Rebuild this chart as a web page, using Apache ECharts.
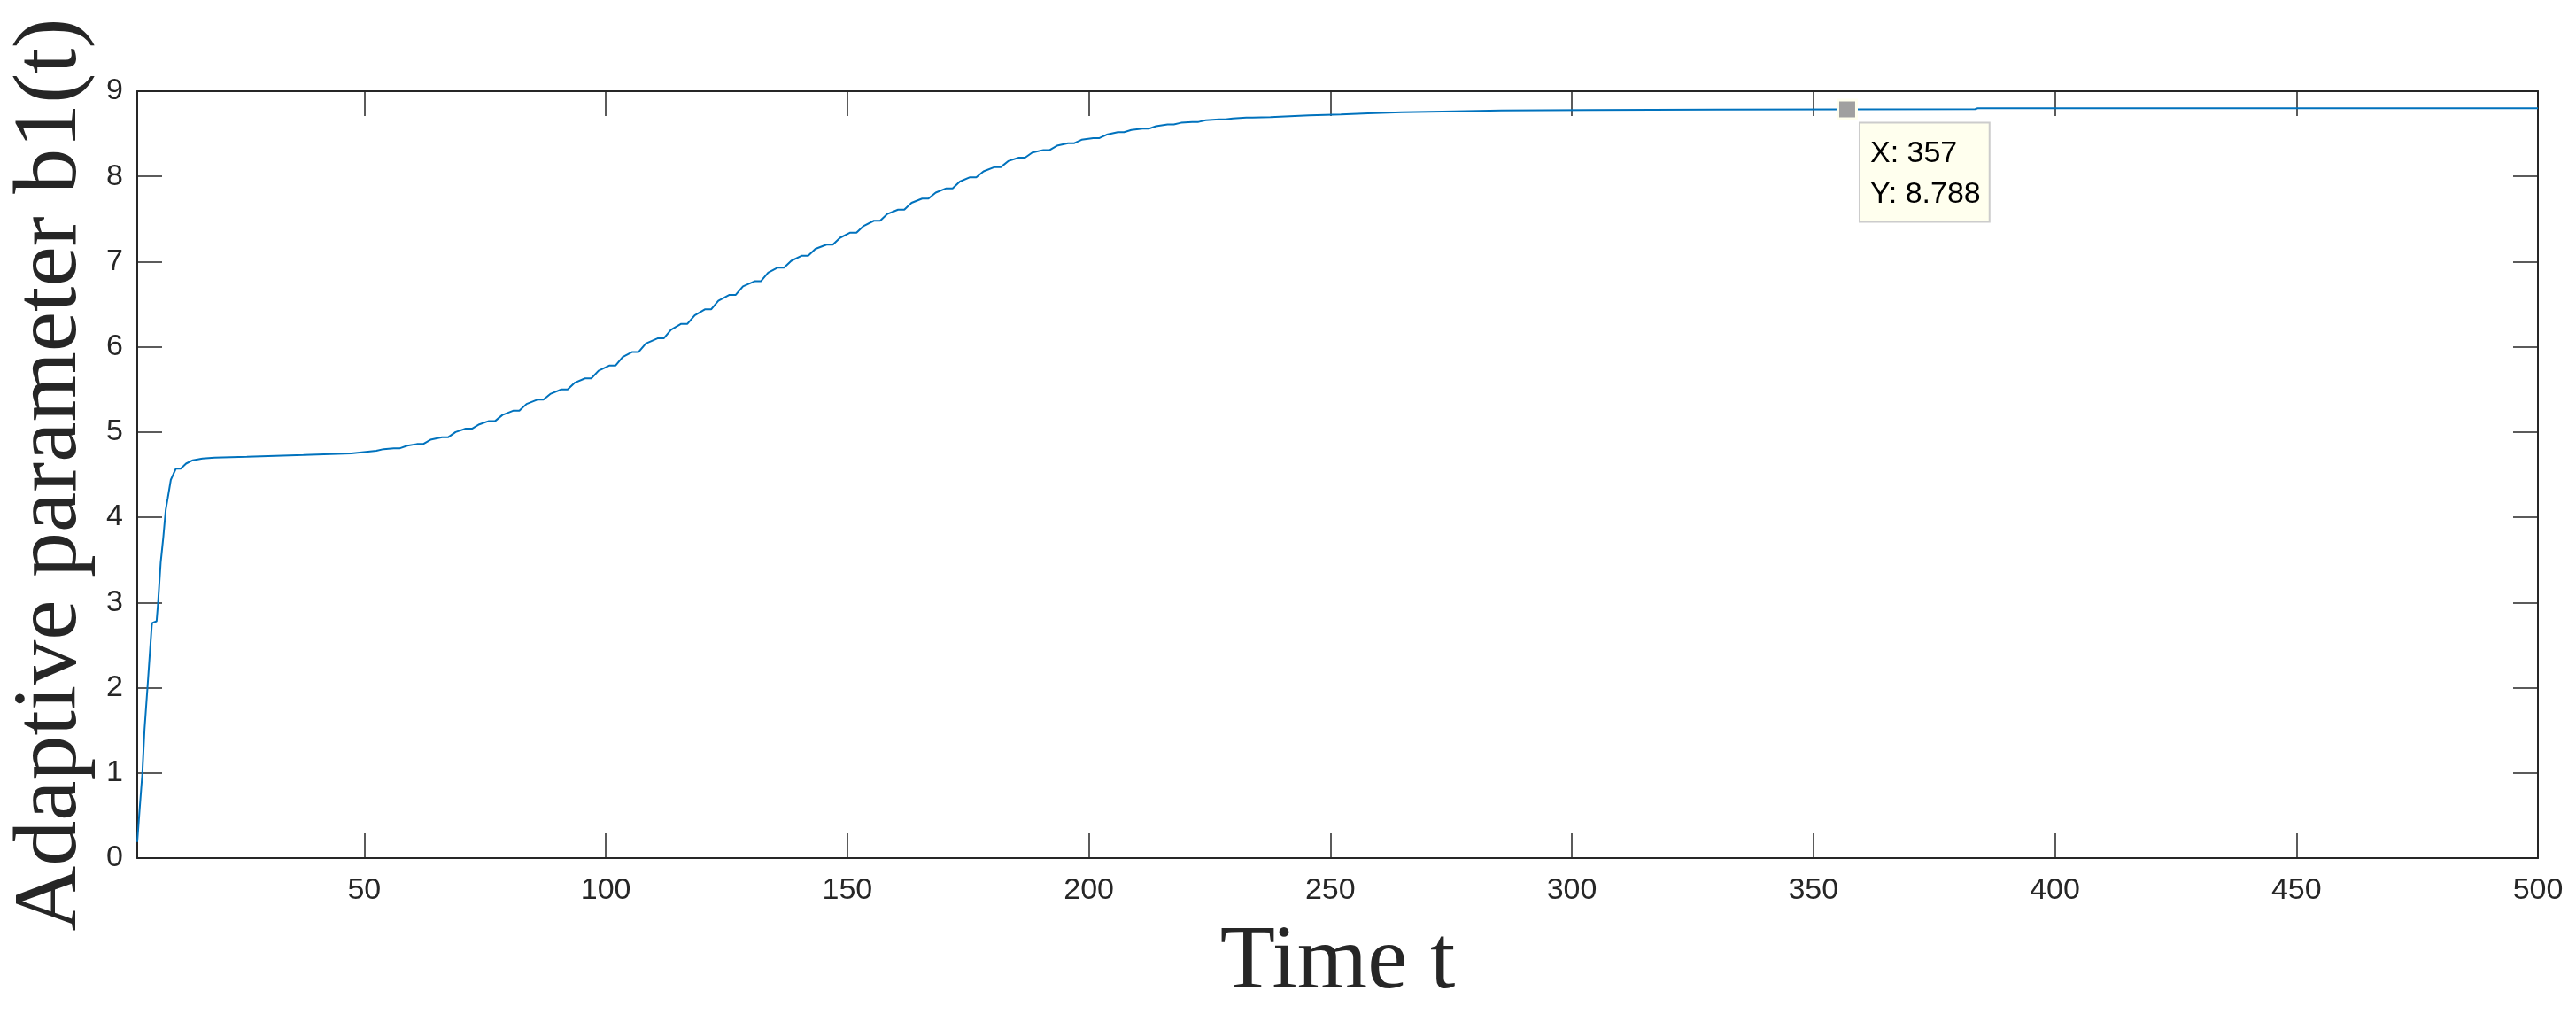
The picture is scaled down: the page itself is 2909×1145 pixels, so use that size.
<!DOCTYPE html>
<html>
<head>
<meta charset="utf-8">
<title>Adaptive parameter b1(t)</title>
<script src="https://cdn.jsdelivr.net/npm/echarts@6/dist/echarts.min.js"></script>
<style>
    html, body { margin: 0; padding: 0; background: #ffffff; }
    #b1_chart { width: 2909px; height: 1145px; }
</style>
</head>
<body>
<div id="b1_chart"></div>
<script>
'use strict';

/*--------------- data -------------*/
var timeT = [
    3, 3.5, 4.05, 4.5, 5.1, 5.55, 6.0, 6.1, 7.0, 7.3, 7.85, 8.4, 8.9, 9.3, 9.95, 10.5, 11.0, 12.0,
    13.1, 14.5, 16.5, 19, 25.7, 37.4, 47.3,
    52.5, 54.0, 56.1, 57.4, 58.9, 60.9, 62.2, 63.7, 66.1, 67.4, 68.9, 71.0,
    72.3, 73.8, 75.8, 77.1, 78.6, 80.8, 82.1, 83.6, 85.8, 87.1, 88.6, 90.8,
    92.1, 93.6, 95.7, 97.0, 98.5, 100.7, 102.0, 103.5, 105.5, 106.8, 108.3, 110.7,
    112.0, 113.5, 115.6, 116.9, 118.4, 120.5, 121.8, 123.3, 125.6, 126.9, 128.4, 130.8,
    132.1, 133.6, 135.6, 136.9, 138.4, 140.6, 141.9, 143.4, 145.7, 147.0, 148.5, 150.6,
    151.9, 153.4, 155.5, 156.8, 158.3, 160.5, 161.8, 163.3, 165.5, 166.8, 168.3, 170.5,
    171.8, 173.3, 175.4, 176.7, 178.2, 180.5, 181.8, 183.3, 185.5, 186.8, 188.3, 190.6,
    191.9, 193.4, 195.7, 197.0, 198.5, 200.9, 202.2, 203.7, 206.0, 207.3, 208.8, 211.1,
    212.4, 213.9, 216.3, 217.6, 219.1, 221.4, 222.7, 224.2, 227.0, 228.3, 229.8, 232.6,
    233.9, 237.6, 245.6, 252.2, 257.8, 264.8, 273.2, 285.4, 303.4, 330, 357, 383.5, 384, 500
];
var b1Values = [
    0.19, 0.58, 0.99, 1.51, 1.99, 2.36, 2.73, 2.76, 2.78, 2.99, 3.47, 3.77, 4.09, 4.22, 4.44, 4.51, 4.57, 4.57,
    4.63, 4.67, 4.69, 4.70, 4.71, 4.73, 4.75,
    4.78, 4.80, 4.81, 4.81, 4.84, 4.86, 4.86, 4.91, 4.94, 4.94, 5.00, 5.04,
    5.04, 5.09, 5.13, 5.13, 5.20, 5.25, 5.25, 5.33, 5.38, 5.38, 5.45, 5.50,
    5.50, 5.58, 5.63, 5.63, 5.72, 5.78, 5.78, 5.88, 5.94, 5.94, 6.04, 6.10,
    6.10, 6.20, 6.27, 6.27, 6.37, 6.44, 6.44, 6.54, 6.61, 6.61, 6.71, 6.77,
    6.77, 6.87, 6.93, 6.93, 7.01, 7.07, 7.07, 7.15, 7.20, 7.20, 7.28, 7.34,
    7.34, 7.42, 7.48, 7.48, 7.56, 7.61, 7.61, 7.69, 7.74, 7.74, 7.81, 7.86,
    7.86, 7.94, 7.99, 7.99, 8.06, 8.11, 8.11, 8.18, 8.22, 8.22, 8.28, 8.31,
    8.31, 8.36, 8.39, 8.39, 8.43, 8.45, 8.45, 8.49, 8.52, 8.52, 8.545, 8.56,
    8.56, 8.59, 8.61, 8.61, 8.63, 8.64, 8.64, 8.66, 8.67, 8.67, 8.68, 8.69,
    8.69, 8.696, 8.717, 8.727, 8.741, 8.752, 8.762, 8.773, 8.778, 8.784, 8.788, 8.790, 8.800, 8.800
];
var xTicks = [50, 100, 150, 200, 250, 300, 350, 400, 450, 500];
var yTicks = [0, 1, 2, 3, 4, 5, 6, 7, 8, 9];
var tipX = 357;
var tipY = 8.788;

var AXIS_COLOR = '#262626';
var LABEL_FONT = '"Liberation Sans", Arial, sans-serif';
var NAME_FONT = '"Liberation Serif", "Times New Roman", serif';

var lineData = timeT.map(function (t, i) {
    return [t, b1Values[i]];
});

/*--------------- axes helpers -------------*/
function xAxisCfg(pos, withLabels) {
    return {
        type: 'value',
        position: pos,
        min: timeT[0],
        max: 500,
        name: withLabels ? 'Time t' : '',
        nameLocation: 'middle',
        nameGap: 68,
        nameTextStyle: { fontFamily: NAME_FONT, fontSize: 102, color: AXIS_COLOR },
        axisLine: { show: true, onZero: false, lineStyle: { color: AXIS_COLOR, width: 2 } },
        axisTick: { show: true, inside: true, length: 28, customValues: xTicks,
                    lineStyle: { color: AXIS_COLOR, width: 1.5 } },
        axisLabel: { show: withLabels, customValues: xTicks, margin: 20,
                     fontFamily: LABEL_FONT, fontSize: 34, color: AXIS_COLOR },
        splitLine: { show: false }
    };
}

function yAxisCfg(pos, withLabels) {
    return {
        type: 'value',
        position: pos,
        min: 0,
        max: 9,
        interval: 1,
        name: withLabels ? 'Adaptive parameter b1(t)' : '',
        nameLocation: 'middle',
        nameGap: 36,
        nameTextStyle: { fontFamily: NAME_FONT, fontSize: 102, color: AXIS_COLOR },
        axisLine: { show: true, onZero: false, lineStyle: { color: AXIS_COLOR, width: 2 } },
        axisTick: { show: true, inside: true, length: 28, customValues: yTicks,
                    lineStyle: { color: AXIS_COLOR, width: 1.5 } },
        axisLabel: { show: withLabels, margin: 16,
                     fontFamily: LABEL_FONT, fontSize: 34, color: AXIS_COLOR },
        splitLine: { show: false }
    };
}

var myChart = echarts.init(document.getElementById('b1_chart'), null, { renderer: 'canvas' });

var option = {
    backgroundColor: '#ffffff',
    animation: false,
    grid: {
        left: 155,
        right: 43,
        top: 103,
        bottom: 176,
        containLabel: false,
        outerBoundsMode: 'none'
    },
    xAxis: [ xAxisCfg('bottom', true), xAxisCfg('top', false) ],
    yAxis: [ yAxisCfg('left', true), yAxisCfg('right', false) ],
    series: [
        {
            name: 'b1',
            type: 'line',
            xAxisIndex: 0,
            yAxisIndex: 0,
            data: lineData,
            showSymbol: false,
            symbol: 'none',
            lineStyle: { color: '#0072BD', width: 2 },
            markPoint: {
                symbol: 'rect',
                symbolSize: 21,
                itemStyle: { color: '#a0a0a0', borderColor: '#ffffee', borderWidth: 3 },
                label: {
                    show: true,
                    position: [27, 28],
                    align: 'left',
                    verticalAlign: 'top',
                    formatter: function () {
                        return 'X: ' + tipX + '\nY: ' + tipY;
                    },
                    fontFamily: LABEL_FONT,
                    fontSize: 34,
                    lineHeight: 46,
                    color: '#000000',
                    backgroundColor: '#ffffee',
                    borderColor: '#cccccc',
                    borderWidth: 2,
                    padding: [11, 9, 7, 11]
                },
                data: [ { coord: [tipX, tipY] } ]
            }
        }
    ]
};

myChart.setOption(option);
</script>
</body>
</html>
